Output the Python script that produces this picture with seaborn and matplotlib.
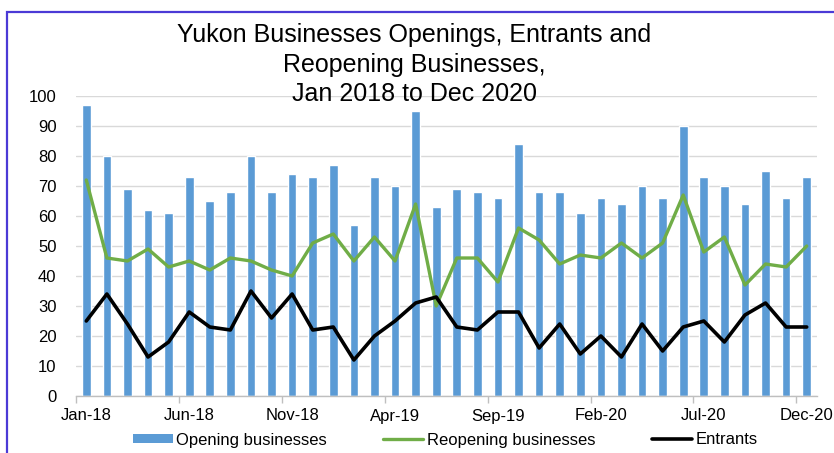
import numpy as np
import pandas as pd
import seaborn as sns
import matplotlib.pyplot as plt
from matplotlib.patches import Rectangle
from matplotlib.lines import Line2D
from matplotlib.patches import Patch

# monthly data, Jan 2018 - Dec 2020
months = pd.date_range("2018-01-01", "2020-12-01", freq="MS").strftime("%b-%y").tolist()
opening = [97, 80, 69, 62, 61, 73, 65, 68, 80, 68, 74, 73,
           77, 57, 73, 70, 95, 63, 69, 68, 66, 84, 68, 68,
           61, 66, 64, 70, 66, 90, 73, 70, 64, 75, 66, 73]
reopening = [72, 46, 45, 49, 43, 45, 42, 46, 45, 42, 40, 51,
             54, 45, 53, 45, 64, 30, 46, 46, 38, 56, 52, 44,
             47, 46, 51, 46, 51, 67, 48, 53, 37, 44, 43, 50]
entrants = [25, 34, 24, 13, 18, 28, 23, 22, 35, 26, 34, 22,
            23, 12, 20, 25, 31, 33, 23, 22, 28, 28, 16, 24,
            14, 20, 13, 24, 15, 23, 25, 18, 27, 31, 23, 23]

df = pd.DataFrame({"month": months, "pos": range(len(months)),
                   "opening": opening, "reopening": reopening, "entrants": entrants})

sns.set_theme(style="white")
plt.rcParams["font.family"] = ["Liberation Sans", "DejaVu Sans"]
plt.rcParams["text.color"] = "black"
plt.rcParams["xtick.color"] = "black"
plt.rcParams["ytick.color"] = "black"

blue = "#5B9BD5"
green = "#70AD47"

fig = plt.figure(figsize=(8.34, 4.53), dpi=100)
ax = fig.add_axes([76 / 834, 1 - 396 / 453, 741 / 834, 300 / 453])

sns.barplot(data=df, x="pos", y="opening", color=blue, width=0.42,
            saturation=1, ax=ax, native_scale=True)
sns.lineplot(data=df, x="pos", y="reopening", color=green, lw=2.4, ax=ax)
sns.lineplot(data=df, x="pos", y="entrants", color="black", lw=2.6, ax=ax)

ax.set_xlim(-0.5, len(months) - 0.5)
ax.set_ylim(0, 100)
ax.set_yticks(range(0, 101, 10))
ax.yaxis.grid(True, color="#D9D9D9", lw=1)
ax.set_axisbelow(True)

ax.set_xticks(range(0, len(months), 5))
ax.set_xticklabels(months[::5])
ax.set_xticks(np.arange(-0.5, len(months) - 1, 5), minor=True)
ax.tick_params(axis="x", which="major", length=0, pad=9, labelsize=12, labelcolor="black")
ax.tick_params(axis="x", which="minor", length=5, width=1, color="#BFBFBF", bottom=True)
ax.tick_params(axis="y", length=0, pad=14, labelsize=12, labelcolor="black")
ax.set_xlabel("")
ax.set_ylabel("")

for s in ["top", "right", "left"]:
    ax.spines[s].set_visible(False)
ax.spines["bottom"].set_color("#BFBFBF")
ax.spines["bottom"].set_linewidth(1)

fig.text(0.497, 1 - 23 / 453,
         "Yukon Businesses Openings, Entrants and\nReopening Businesses,\nJan 2018 to Dec 2020",
         ha="center", va="top", fontsize=18, linespacing=1.3, color="black")

handles = [Patch(facecolor=blue, edgecolor="none"),
           Line2D([0], [0], color=green, lw=2.4),
           Line2D([0], [0], color="black", lw=2.6)]
fig.legend(handles, ["Opening businesses", "Reopening businesses", "Entrants"],
           loc="center", bbox_to_anchor=(445 / 834, 1 - 440 / 453), ncol=3,
           frameon=False, fontsize=12, handlelength=2.4, handletextpad=0.2,
           columnspacing=3.4, handleheight=0.45)

fig.add_artist(Rectangle((7 / 834, -0.1), 1.2, 1 - 12 / 453 + 0.1,
                         transform=fig.transFigure, fill=False,
                         edgecolor="#4B3AD6", lw=1.6))

fig.savefig("out.png", dpi=100)
